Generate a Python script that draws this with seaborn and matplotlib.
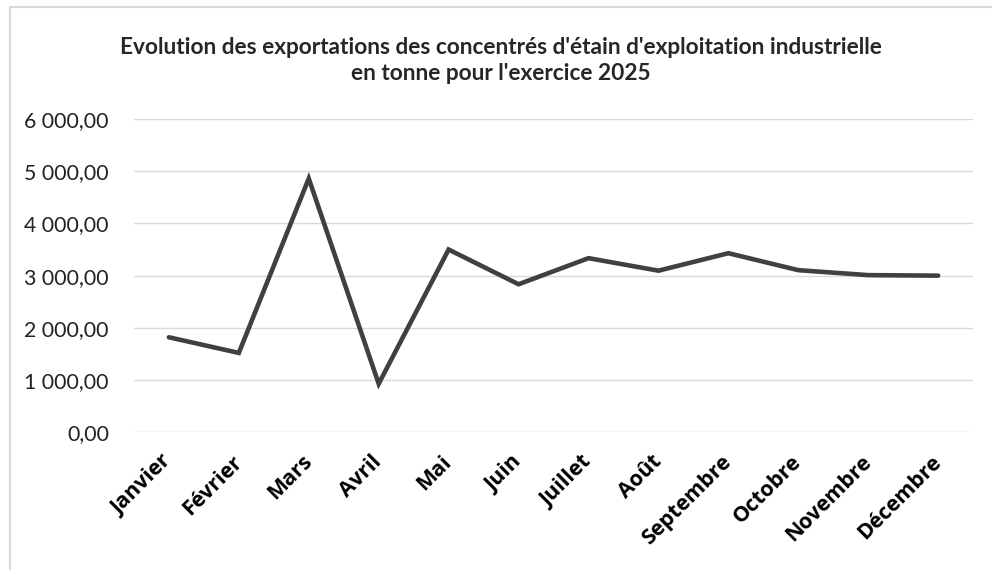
import matplotlib
matplotlib.use("Agg")
import matplotlib.pyplot as plt
import matplotlib.ticker as mticker
from matplotlib.lines import Line2D
import pandas as pd
import seaborn as sns

# %%
mois = ["Janvier", "Février", "Mars", "Avril", "Mai", "Juin", "Juillet",
        "Août", "Septembre", "Octobre", "Novembre", "Décembre"]
exportations = [1820, 1520, 4860, 930, 3500, 2835, 3335,
                3095, 3430, 3105, 3010, 3000]
titre = ("Evolution des exportations des concentrés d'étain d'exploitation industrielle\n"
         "en tonne pour l'exercice 2025")

df = pd.DataFrame({"mois": mois, "tonnes": exportations})
df["pos"] = range(len(df))

# %%
sns.set_style("white")
fig = plt.figure(figsize=(9.92, 5.70), dpi=100)
ax = fig.add_axes([0.135, 0.2416, 0.846, 0.5496])

sns.lineplot(data=df, x="pos", y="tonnes", ax=ax, color="#404040",
             linewidth=3.3, solid_joinstyle="miter", solid_capstyle="round")

ax.set_xlim(-0.5, len(mois) - 0.5)
ax.set_ylim(0, 6000)
ax.yaxis.set_major_locator(mticker.MultipleLocator(1000))
ax.yaxis.set_major_formatter(mticker.FuncFormatter(
    lambda v, _: f"{v:,.2f}".replace(",", " ").replace(".", ",")))
ax.set_xticks(df["pos"])
ax.set_xticklabels(mois, rotation=45, ha="right", va="center",
                   rotation_mode="anchor", fontfamily="Open Sans",
                   fontweight="bold", fontsize=15.5, color="black")
for lab in ax.get_yticklabels():
    lab.set_fontfamily("Lato")
    lab.set_fontsize(15.3)
    lab.set_color("#222222")
ax.tick_params(axis="x", length=0, pad=19)
ax.tick_params(axis="y", length=0, pad=18)
ax.grid(axis="y", color="#d9d9d9", linewidth=1.0)
ax.set_axisbelow(True)
for s in ax.spines.values():
    s.set_visible(False)
ax.set_xlabel("")
ax.set_ylabel("")

fig.text(0.505, 0.894, titre, ha="center", va="center", fontfamily="Lato",
         fontweight="bold", fontsize=16.3, linespacing=1.3)

# cadre gris clair du graphique
fig.add_artist(Line2D([9.5 / 992, 1], [1 - 7 / 570] * 2, color="#d9d9d9",
                      linewidth=1.5, transform=fig.transFigure))
fig.add_artist(Line2D([9.5 / 992] * 2, [0, 1 - 7 / 570], color="#d9d9d9",
                      linewidth=1.5, transform=fig.transFigure))

fig.savefig("out.png", dpi=100)
